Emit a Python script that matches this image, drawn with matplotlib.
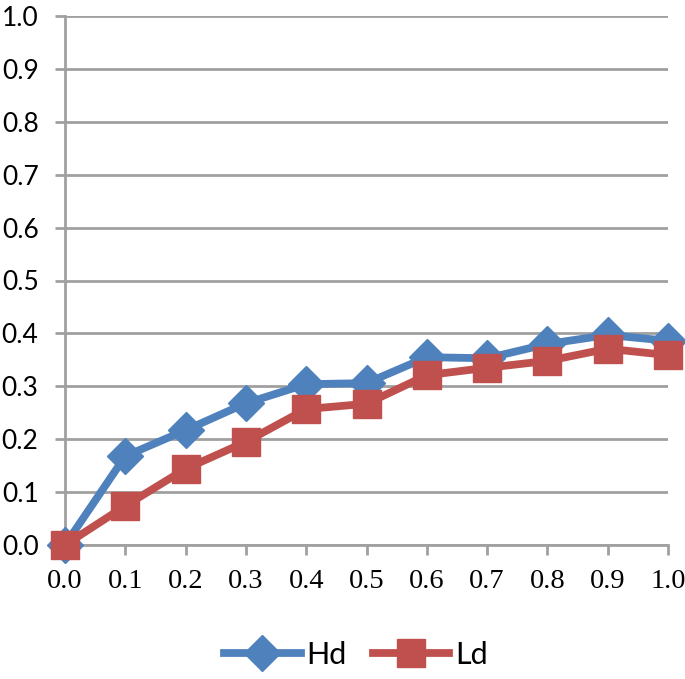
import numpy as np
import matplotlib
matplotlib.use("Agg")
import matplotlib.pyplot as plt

x = [0.0, 0.1, 0.2, 0.3, 0.4, 0.5, 0.6, 0.7, 0.8, 0.9, 1.0]
hd = [0.0, 0.168, 0.217, 0.268, 0.304, 0.306, 0.355, 0.353, 0.380, 0.397, 0.386]
ld = [0.0, 0.074, 0.144, 0.195, 0.257, 0.267, 0.321, 0.335, 0.348, 0.371, 0.359]
ticks = [0.0, 0.1, 0.2, 0.3, 0.4, 0.5, 0.6, 0.7, 0.8, 0.9, 1.0]

fig = plt.figure(figsize=(6.85, 6.79), dpi=100)
ax = fig.add_axes([65 / 685, 1 - 545 / 679, 603 / 685, 529 / 679])

ax.plot(x, hd, color='#4F81BD', lw=5.6, marker='D', ms=18,
        label='Hd', clip_on=False, zorder=3)
ax.plot(x, ld, color='#C0504D', lw=5.6, marker='s', ms=19.5,
        label='Ld', clip_on=False, zorder=4)

ax.set_xlim(0, 1)
ax.set_ylim(0, 1)
ax.set_xticks(ticks)
ax.set_yticks(ticks)
ax.set_xticklabels(['%.1f' % t for t in ticks], family='Liberation Serif', fontsize=20.5)
ax.set_yticklabels(['%.1f' % t for t in ticks], family='Lato', fontsize=19)
ax.grid(True, axis='y', color='#A0A0A0', lw=2)
ax.set_axisbelow(True)
for s in ['top', 'right']:
    ax.spines[s].set_visible(False)
for s in ['left', 'bottom']:
    ax.spines[s].set_color('#A0A0A0')
    ax.spines[s].set_linewidth(2)
ax.tick_params(axis='both', color='#A0A0A0', width=2, length=7)
ax.tick_params(axis='x', pad=10)
ax.tick_params(axis='y', pad=12)

fig.legend(loc='center', bbox_to_anchor=(0.52, 1 - 655 / 679), ncol=2, frameon=False,
           prop={'family': 'Lato', 'size': 22}, handlelength=2.5,
           handletextpad=0.2, columnspacing=0.85)

plt.savefig('out.png')
